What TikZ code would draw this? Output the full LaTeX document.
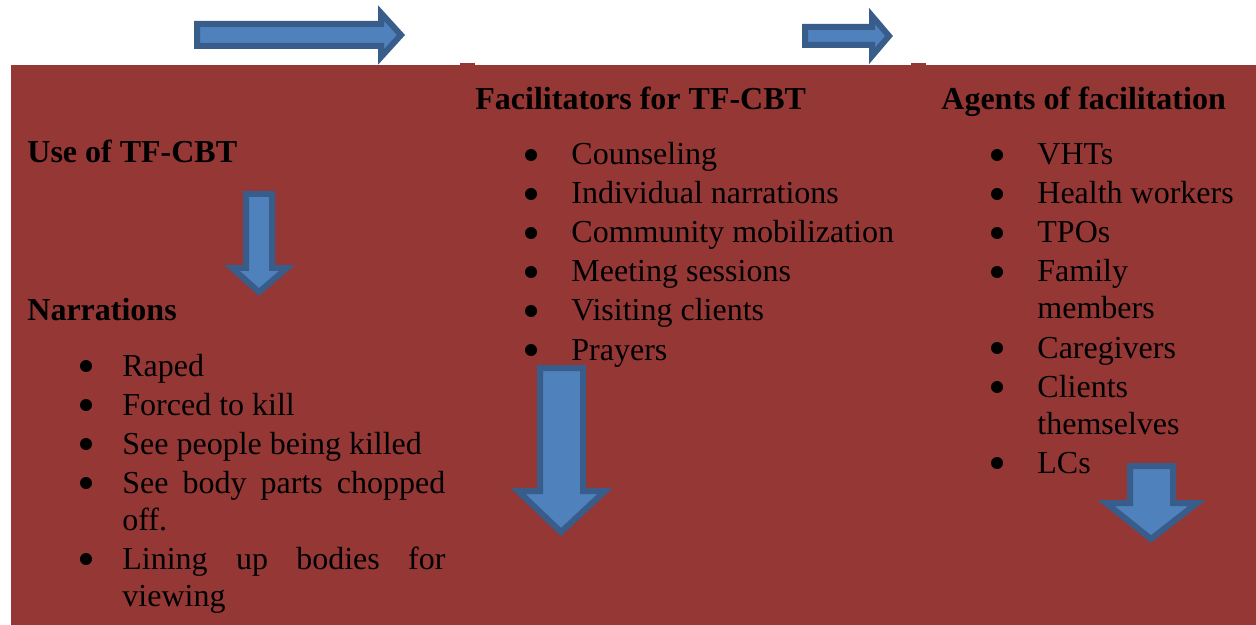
\documentclass[tikz,border=0pt]{standalone}
\usepackage{fontspec}
\setmainfont{Liberation Serif}
\usepackage{xcolor}
\usepackage{tikz}
\definecolor{boxred}{HTML}{953735}
\definecolor{arrowfill}{HTML}{4F81BD}
\definecolor{arrowline}{HTML}{385D8A}
\def\txt{\fontsize{16}{19}\selectfont}
\tikzstyle{head}=[font=\txt\bfseries, anchor=base west, inner sep=0pt]
\tikzstyle{item}=[font=\txt, anchor=base west, inner sep=0pt]
\tikzstyle{dot}=[circle, fill=black, inner sep=0pt, minimum size=6pt, yshift=5pt]
\tikzstyle{blockarrow}=[draw=arrowline, fill=arrowfill, line width=3pt, line join=miter]
\begin{document}
\begin{tikzpicture}[x=0.5pt, y=-0.5pt]
		\useasboundingbox[fill=white] (0,0) rectangle (1256,625);
		\fill[boxred] (11,65) rectangle (1256,625);
		\fill[boxred] (460,63) rectangle (475,66);
		\fill[boxred] (911,63) rectangle (926,66);
	%--------------------
		\draw[blockarrow] (197,24) -- (381,24) -- (381,13) -- (401,35) -- (381,57) -- (381,46) -- (197,46) -- cycle;
		\draw[blockarrow] (805,27) -- (872,27) -- (872,16) -- (889,36) -- (872,56) -- (872,45) -- (805,45) -- cycle;
		\draw[blockarrow] (246,194) -- (272,194) -- (272,268) -- (287,268) -- (259,292) -- (232,268) -- (246,268) -- cycle;
		\draw[blockarrow] (540,368) -- (583,368) -- (583,491) -- (605,491) -- (561,532) -- (518,491) -- (540,491) -- cycle;
		\draw[blockarrow] (1130,466) -- (1173,466) -- (1173,503) -- (1197,503) -- (1151,539) -- (1106,503) -- (1130,503) -- cycle;
	%--------------------
		\node[head] (use) at (27,163) {Use of TF-CBT};
		\node[head] (narr) at (27,321) {Narrations};
		\node[dot] at (86,376) {};
		\node[item] (raped) at (122,376) {Raped};
		\node[dot] at (86,415) {};
		\node[item] (forced) at (122,415) {Forced to kill};
		\node[dot] at (86,454) {};
		\node[item] (seekill) at (122,454) {See people being killed};
		\node[dot] at (86,493) {};
		\node[item] (seebody) at (122,493) {\makebox[161.5pt][s]{See body parts chopped}};
		\node[item] (off) at (122,530) {off.};
		\node[dot] at (86,569) {};
		\node[item] (lining) at (122,569) {\makebox[161.5pt][s]{Lining up bodies for}};
		\node[item] (viewing) at (122,606) {viewing};
	%--------------------
		\node[head] (facil) at (475,110) {Facilitators for TF-CBT};
		\node[dot] at (531,165) {};
		\node[item] (couns) at (571,165) {Counseling};
		\node[dot] at (531,204) {};
		\node[item] (indiv) at (571,204) {Individual narrations};
		\node[dot] at (531,243) {};
		\node[item] (commun) at (571,243) {Community mobilization};
		\node[dot] at (531,282) {};
		\node[item] (meet) at (571,282) {Meeting sessions};
		\node[dot] at (531,321) {};
		\node[item] (visit) at (571,321) {Visiting clients};
		\node[dot] at (531,360) {};
		\node[item] (pray) at (571,360) {Prayers};
	%--------------------
		\node[head] (agents) at (941,110) {Agents of facilitation};
		\node[dot] at (997,165) {};
		\node[item] (vht) at (1037,165) {VHTs};
		\node[dot] at (997,204) {};
		\node[item] (health) at (1037,204) {Health workers};
		\node[dot] at (997,243) {};
		\node[item] (tpo) at (1037,243) {TPOs};
		\node[dot] at (997,282) {};
		\node[item] (family) at (1037,282) {Family};
		\node[item] (members) at (1037,319) {members};
		\node[dot] at (997,358) {};
		\node[item] (care) at (1037,358) {Caregivers};
		\node[dot] at (997,397) {};
		\node[item] (clients) at (1037,397) {Clients};
		\node[item] (themsel) at (1037,434) {themselves};
		\node[dot] at (997,473) {};
		\node[item] (lc) at (1037,473) {LCs};
	\end{tikzpicture}
\end{document}
